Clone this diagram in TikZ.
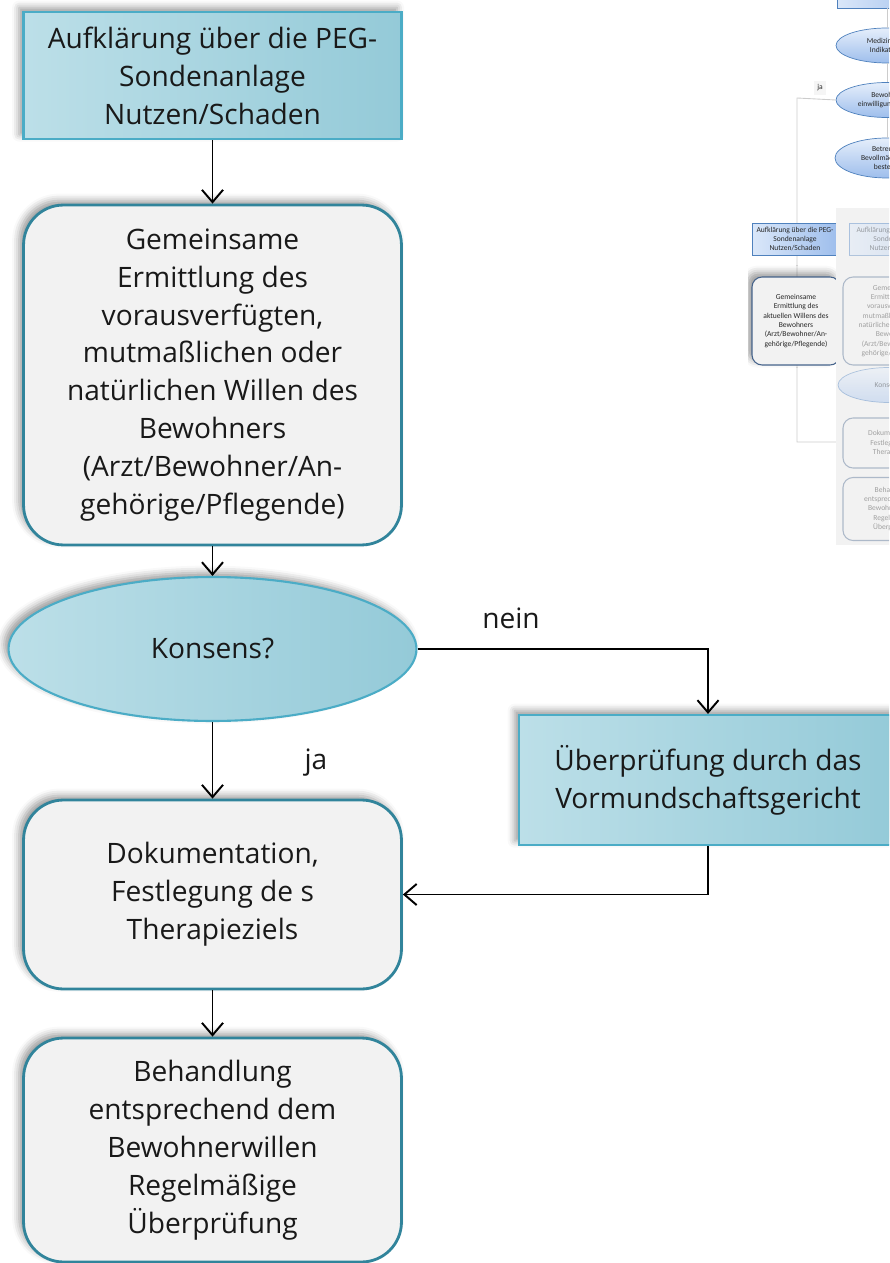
\documentclass[tikz,border=0pt]{standalone}
\usepackage{fontspec}
\setmainfont{Open Sans}
\newfontfamily\thumbfont{Carlito}
\usetikzlibrary{shapes.geometric, arrows.meta, positioning, shadows.blur}

\definecolor{kastenL}{RGB}{188,223,232}
\definecolor{kastenR}{RGB}{148,202,216}
\definecolor{randblau}{RGB}{75,172,198}
\definecolor{randtuerkis}{RGB}{49,132,155}
\definecolor{kastengrau}{RGB}{242,242,242}
\definecolor{miniL}{RGB}{218,231,249}
\definecolor{miniR}{RGB}{158,190,236}
\definecolor{minirand}{RGB}{79,129,189}
\definecolor{minigrau}{RGB}{70,100,140}

\begin{document}
\begin{tikzpicture}[x=0.02cm, y=-0.02cm,
    txt/.style={align=center, text=black!90, font=\fontsize{16}{21.6}\selectfont},
    schatten/.style={blur shadow={shadow xshift=-2.5pt, shadow yshift=2.5pt, shadow blur radius=4pt, shadow opacity=40}},
    kasten/.style={txt, schatten, draw=randblau, line width=1.2pt, left color=kastenL, right color=kastenR, minimum width=7.56cm, inner sep=0pt},
    rkasten/.style={txt, schatten, draw=randtuerkis, line width=1.6pt, fill=kastengrau, rounded corners=0.8cm, minimum width=7.56cm, inner sep=0pt},
    frage/.style={txt, schatten, ellipse, draw=randblau, line width=1.2pt, left color=kastenL, right color=kastenR, minimum width=8.16cm, minimum height=2.88cm, inner sep=0pt},
    pfeil/.style={-{Straight Barb[length=7pt, width=12pt]}, line width=1.1pt},
    mtxt/.style={align=center, text=black!85, font=\thumbfont\fontsize{4.3}{5.3}\selectfont, inner sep=0pt},
    mkasten/.style={mtxt, draw=minirand, line width=0.4pt, left color=miniL, right color=miniR},
    mfrage/.style={mtxt, ellipse, draw=minirand, line width=0.4pt, top color=miniL!70!white, bottom color=miniR},
    mrund/.style={mtxt, draw=minigrau, line width=0.6pt, fill=kastengrau, rounded corners=0.2cm},
    mlinie/.style={draw=black!20, line width=0.5pt}
]
    \useasboundingbox (0,0) rectangle (889,1263);

    \begin{scope}
        \clip (748,0) rectangle (889,545);
        \node[mkasten, minimum width=2cm, minimum height=0.56cm] (mstart) at (887,-6) {};
        \node[mfrage, minimum width=2.04cm, minimum height=0.7cm] (mmed) at (887,45.5) {Medizinische\\Indikation?};
        \node[mfrage, minimum width=2.04cm, minimum height=0.7cm] (mbew) at (887,100) {Bewohner\\einwilligungsfähig?};
        \node[mfrage, minimum width=2.08cm, minimum height=0.8cm] (mbet) at (887,158) {Betreuer/\\Bevollmächtigter\\bestellt?};
        \draw[mlinie] (mstart) -- (mmed);
        \draw[mlinie] (mmed) -- (mbew);
        \draw[mlinie] (mbew) -- (mbet);
        \coordinate (mk1) at (797,98);
        \coordinate (mk2) at (797,442);
        \coordinate (mk3) at (840,442);
        \draw[mlinie] (mbew.west) -- (mk1) -- (mk2) -- (mk3);
        \node[mtxt, fill=black!4, inner sep=2pt] (mja) at (820,88) {ja};
        \node[mkasten, minimum width=1.72cm, minimum height=0.64cm] (maufkl) at (795,239) {Aufklärung über die PEG-\\Sondenanlage\\Nutzen/Schaden};
        \node[mrund, schatten, minimum width=1.76cm, minimum height=1.76cm] (mgem) at (796,321) {Gemeinsame\\Ermittlung des\\aktuellen Willens des\\Bewohners\\(Arzt/Bewohner/An-\\gehörige/Pflegende)};

        \fill[black!5] (836,208) rectangle (895,545);
        \begin{scope}[opacity=0.4]
            \node[mkasten, minimum width=1.84cm, minimum height=0.64cm] (faufkl) at (895,239) {Aufklärung über die PEG-\\Sondenanlage\\Nutzen/Schaden};
            \node[mrund, minimum width=2cm, minimum height=1.76cm] (fgem) at (893,321) {Gemeinsame\\Ermittlung des\\vorausverfügten,\\mutmaßlichen oder\\natürlichen Willen des\\Bewohners\\(Arzt/Bewohner/An-\\gehörige/Pflegende)};
            \node[mfrage, minimum width=2.04cm, minimum height=0.7cm] (fkons) at (889,385) {Konsens?};
            \node[mrund, minimum width=2cm, minimum height=1cm] (fdoku) at (893,443) {Dokumentation,\\Festlegung des\\Therapieziels};
            \node[mrund, minimum width=2cm, minimum height=1.26cm] (fbeh) at (893,509) {Behandlung\\entsprechend dem\\Bewohnerwillen\\Regelmäßige\\Überprüfung};
        \end{scope}
    \end{scope}

    \begin{scope}
        \clip (-20,-20) rectangle (889,1263);
        \node[kasten, minimum height=2.54cm] (aufkl) at (212.5,75.5) {Aufklärung über die PEG-\\Sondenanlage\\Nutzen/Schaden};
        \node[rkasten, minimum height=6.8cm] (ermitt) at (212.5,375) {Gemeinsame\\Ermittlung des\\vorausverfügten,\\mutmaßlichen oder\\natürlichen Willen des\\Bewohners\\(Arzt/Bewohner/An-\\gehörige/Pflegende)};
        \node[frage] (konsens) at (212.5,649) {Konsens?};
        \node[rkasten, minimum height=3.78cm] (doku) at (212.5,894.5) {Dokumentation,\\Festlegung de s\\Therapieziels};
        \node[rkasten, minimum height=4.48cm] (behand) at (212.5,1150) {Behandlung\\entsprechend dem\\Bewohnerwillen\\Regelmäßige\\Überprüfung};
        \node[kasten, minimum height=2.6cm] (vormund) at (708,780) {Überprüfung durch das\\Vormundschaftsgericht};

        \node[txt] (nein) at (511,618) {nein};
        \node[txt] (ja) at (316,763) {ja};

        \draw[pfeil] (aufkl) -- (ermitt);
        \draw[pfeil] (ermitt) -- (konsens);
        \draw[pfeil] (konsens) -- (doku);
        \draw[pfeil] (konsens.east) -| (vormund.north);
        \draw[pfeil] (vormund.south) |- (doku.east);
        \draw[pfeil] (doku) -- (behand);
    \end{scope}
\end{tikzpicture}
\end{document}
